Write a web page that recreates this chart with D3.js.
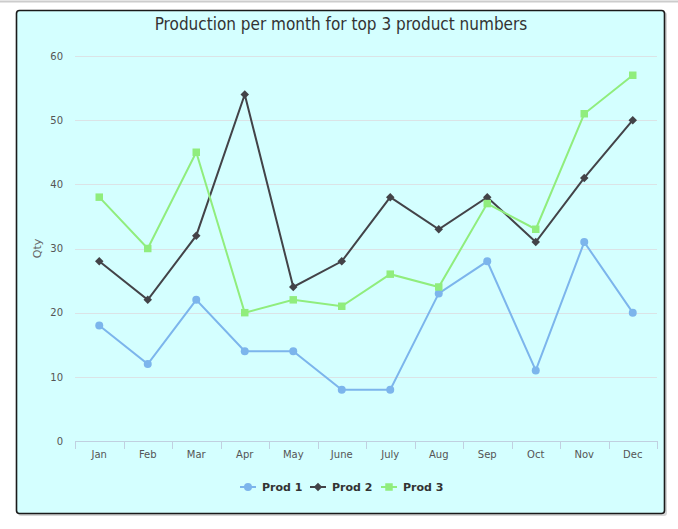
<!DOCTYPE html>
<html><head><meta charset="utf-8">
<script src="https://cdn.jsdelivr.net/npm/d3@7/dist/d3.min.js"></script>
<style>html,body{margin:0;padding:0;background:#fff;}svg{display:block;}</style>
</head><body>
<svg id="c" width="678" height="529"></svg>
<script>
const months = ["Jan","Feb","Mar","Apr","May","June","July","Aug","Sep","Oct","Nov","Dec"];
const prod1 = [18,12,22,14,14,8,8,23,28,11,31,20];
const prod2 = [28,22,32,54,24,28,38,33,38,31,41,50];
const prod3 = [38,30,45,20,22,21,26,24,37,33,51,57];
const seriesNames = ["Prod 1","Prod 2","Prod 3"];
const yTicks = [0,10,20,30,40,50,60];

const colors = ["#7cb5ec","#434348","#90ed7d"];
const squareDiamond = { draw(ctx, size){ const r = Math.sqrt(size/2); ctx.moveTo(0,-r); ctx.lineTo(r,0); ctx.lineTo(0,r); ctx.lineTo(-r,0); ctx.closePath(); } };
const symbols = [d3.symbolCircle, squareDiamond, d3.symbolSquare];
const symSizes = [50, 36, 56];
const series = [prod1, prod2, prod3].map((v,i)=>({name:seriesNames[i], values:v, color:colors[i], sym:symbols[i], size:symSizes[i]}));

const svg = d3.select("#c");
const font = "'DejaVu Sans', sans-serif";

// top separator line
svg.append("line").attr("x1",0).attr("x2",678).attr("y1",1.5).attr("y2",1.5).attr("stroke","#cccccc").attr("stroke-width",2);
// shadow
svg.append("rect").attr("x",18).attr("y",12).attr("width",649).attr("height",504).attr("rx",3).attr("fill","#999").attr("opacity",0.4);
// chart box
svg.append("rect").attr("x",16.5).attr("y",10.5).attr("width",648).attr("height",503).attr("rx",3)
  .attr("fill","#d4ffff").attr("stroke","#1a1a1a").attr("stroke-width",1.6);

const pLeft = 75, pRight = 657, pTop = 56, pBottom = 441;
const x = d3.scaleBand().domain(months).range([pLeft,pRight]);
const y = d3.scaleLinear().domain([0,60]).range([pBottom,pTop]);

// title
svg.append("text").attr("x",341).attr("y",30).attr("text-anchor","middle")
  .attr("font-family","'DejaVu Sans Condensed', 'DejaVu Sans', sans-serif").attr("font-size",17).attr("fill","#333")
  .text("Production per month for top 3 product numbers");

// gridlines
svg.append("g").selectAll("line").data(yTicks.filter(t=>t>0)).join("line")
  .attr("x1",pLeft).attr("x2",pRight).attr("y1",d=>Math.round(y(d))+0.5).attr("y2",d=>Math.round(y(d))+0.5)
  .attr("stroke","#dbe3e6").attr("stroke-width",1);

// y axis labels
const yAxis = d3.axisLeft(y).tickValues(yTicks).tickSize(0).tickPadding(0);
const yg = svg.append("g").attr("transform",`translate(${pLeft-12},0)`).call(yAxis);
yg.select(".domain").remove();
yg.selectAll("text").attr("font-family",font).attr("font-size",10).attr("fill","#555");

svg.append("text").attr("transform",`translate(41,${(pTop+pBottom)/2}) rotate(-90)`).attr("text-anchor","middle")
  .attr("font-family",font).attr("font-size",11).attr("fill","#666").text("Qty");

// x axis
const xAxis = d3.axisBottom(x).tickSize(0).tickPadding(9);
const xg = svg.append("g").attr("transform",`translate(0,${pBottom})`).call(xAxis);
xg.select(".domain").attr("stroke","#c0d0e0");
xg.selectAll("text").attr("font-family",font).attr("font-size",10).attr("fill","#555").attr("dy","0.8em");
const bounds = months.map(m=>x(m)).concat([pRight]);
xg.append("g").selectAll("line").data(bounds).join("line")
  .attr("x1",d=>Math.round(d)+0.5).attr("x2",d=>Math.round(d)+0.5).attr("y1",0).attr("y2",8)
  .attr("stroke","#c0d0e0");

// lines
const line = d3.line().x((d,i)=>x(months[i])+x.bandwidth()/2).y(d=>y(d));
series.forEach(s=>{
  svg.append("path").datum(s.values).attr("d",line).attr("fill","none").attr("stroke",s.color).attr("stroke-width",2);
  svg.append("g").selectAll("path").data(s.values).join("path")
    .attr("d",d3.symbol().type(s.sym).size(s.size))
    .attr("transform",(d,i)=>`translate(${x(months[i])+x.bandwidth()/2},${y(d)})`)
    .attr("fill",s.color);
});

// legend
const legX = [248, 318, 389];
const lg = svg.append("g");
series.forEach((s,i)=>{
  const g = lg.append("g").attr("transform",`translate(${legX[i]},487)`);
  g.append("line").attr("x1",-8).attr("x2",8).attr("y1",0).attr("y2",0).attr("stroke",s.color).attr("stroke-width",2);
  g.append("path").attr("d",d3.symbol().type(s.sym).size(s.size)).attr("fill",s.color);
  g.append("text").attr("x",14).attr("y",4).attr("font-family",font).attr("font-size",11).attr("font-weight","bold").attr("fill","#333").text(s.name);
});
</script>
</body></html>
